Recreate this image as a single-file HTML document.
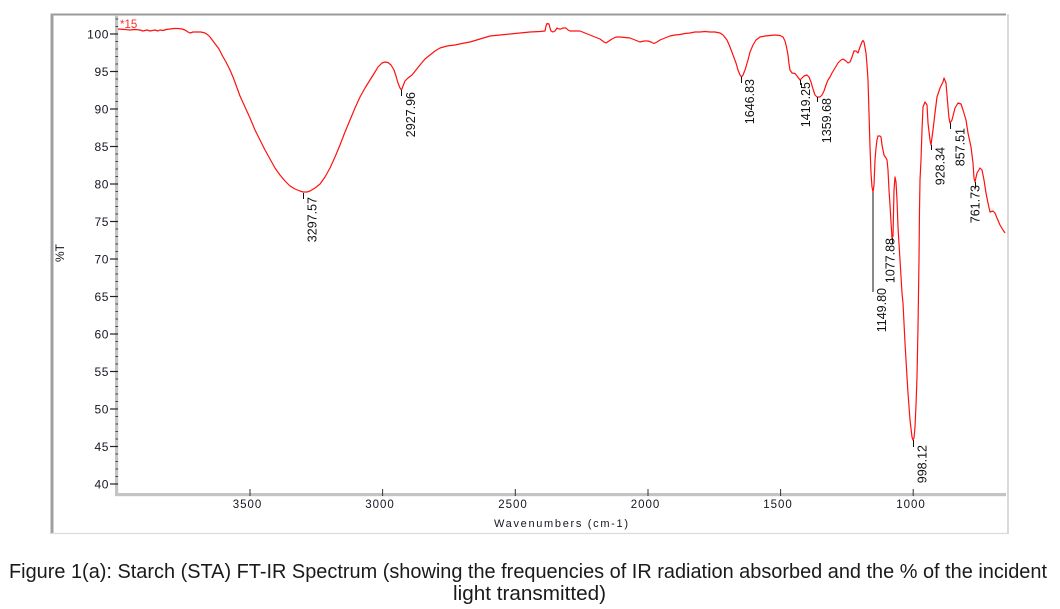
<!DOCTYPE html>
<html>
<head>
<meta charset="utf-8">
<style>
html,body{margin:0;padding:0;background:#fff;}
svg{display:block;}
text{font-family:"Liberation Sans",Arial,sans-serif;}
</style>
</head>
<body>
<svg width="1060" height="609" viewBox="0 0 1060 609" xmlns="http://www.w3.org/2000/svg">
  <rect x="0" y="0" width="1060" height="609" fill="#fff"/>
  <!-- outer frame -->
  <line x1="51" y1="14.5" x2="1006" y2="14.5" stroke="#9a9a9a" stroke-width="2"/>
  <line x1="52" y1="13.5" x2="52" y2="534" stroke="#a0a0a0" stroke-width="3"/>
  <line x1="1008" y1="14" x2="1008" y2="534" stroke="#ddd9d2" stroke-width="2"/>
  <line x1="51" y1="533.5" x2="1008" y2="533.5" stroke="#dcdcdc" stroke-width="1.2"/>

  <!-- axes bands -->
  <rect x="115" y="15" width="3.2" height="481" fill="#c4c4c4"/>
  <rect x="115" y="493" width="891" height="3.2" fill="#c4c4c4"/>

  <!-- y minor ticks -->
  <g stroke="#444" stroke-width="1">
    <line x1="115.5" y1="19" x2="118" y2="19"/>
    <line x1="115.5" y1="26.5" x2="118" y2="26.5"/>
    <line x1="115.5" y1="41.5" x2="118" y2="41.5"/><line x1="115.5" y1="49" x2="118" y2="49"/><line x1="115.5" y1="56.5" x2="118" y2="56.5"/><line x1="115.5" y1="64" x2="118" y2="64"/>
    <line x1="115.5" y1="79" x2="118" y2="79"/><line x1="115.5" y1="86.5" x2="118" y2="86.5"/><line x1="115.5" y1="94" x2="118" y2="94"/><line x1="115.5" y1="101.5" x2="118" y2="101.5"/>
    <line x1="115.5" y1="116.5" x2="118" y2="116.5"/><line x1="115.5" y1="124" x2="118" y2="124"/><line x1="115.5" y1="131.5" x2="118" y2="131.5"/><line x1="115.5" y1="139" x2="118" y2="139"/>
    <line x1="115.5" y1="154" x2="118" y2="154"/><line x1="115.5" y1="161.5" x2="118" y2="161.5"/><line x1="115.5" y1="169" x2="118" y2="169"/><line x1="115.5" y1="176.5" x2="118" y2="176.5"/>
    <line x1="115.5" y1="191.5" x2="118" y2="191.5"/><line x1="115.5" y1="199" x2="118" y2="199"/><line x1="115.5" y1="206.5" x2="118" y2="206.5"/><line x1="115.5" y1="214" x2="118" y2="214"/>
    <line x1="115.5" y1="229" x2="118" y2="229"/><line x1="115.5" y1="236.5" x2="118" y2="236.5"/><line x1="115.5" y1="244" x2="118" y2="244"/><line x1="115.5" y1="251.5" x2="118" y2="251.5"/>
    <line x1="115.5" y1="266.5" x2="118" y2="266.5"/><line x1="115.5" y1="274" x2="118" y2="274"/><line x1="115.5" y1="281.5" x2="118" y2="281.5"/><line x1="115.5" y1="289" x2="118" y2="289"/>
    <line x1="115.5" y1="304" x2="118" y2="304"/><line x1="115.5" y1="311.5" x2="118" y2="311.5"/><line x1="115.5" y1="319" x2="118" y2="319"/><line x1="115.5" y1="326.5" x2="118" y2="326.5"/>
    <line x1="115.5" y1="341.5" x2="118" y2="341.5"/><line x1="115.5" y1="349" x2="118" y2="349"/><line x1="115.5" y1="356.5" x2="118" y2="356.5"/><line x1="115.5" y1="364" x2="118" y2="364"/>
    <line x1="115.5" y1="379" x2="118" y2="379"/><line x1="115.5" y1="386.5" x2="118" y2="386.5"/><line x1="115.5" y1="394" x2="118" y2="394"/><line x1="115.5" y1="401.5" x2="118" y2="401.5"/>
    <line x1="115.5" y1="416.5" x2="118" y2="416.5"/><line x1="115.5" y1="424" x2="118" y2="424"/><line x1="115.5" y1="431.5" x2="118" y2="431.5"/><line x1="115.5" y1="439" x2="118" y2="439"/>
    <line x1="115.5" y1="454" x2="118" y2="454"/><line x1="115.5" y1="461.5" x2="118" y2="461.5"/><line x1="115.5" y1="469" x2="118" y2="469"/><line x1="115.5" y1="476.5" x2="118" y2="476.5"/>
  </g>
  <!-- y major ticks -->
  <g stroke="#222" stroke-width="1.2">
    <line x1="110" y1="34" x2="118" y2="34"/>
    <line x1="110" y1="71.5" x2="118" y2="71.5"/>
    <line x1="110" y1="109" x2="118" y2="109"/>
    <line x1="110" y1="146.5" x2="118" y2="146.5"/>
    <line x1="110" y1="184" x2="118" y2="184"/>
    <line x1="110" y1="221.5" x2="118" y2="221.5"/>
    <line x1="110" y1="259" x2="118" y2="259"/>
    <line x1="110" y1="296.5" x2="118" y2="296.5"/>
    <line x1="110" y1="334" x2="118" y2="334"/>
    <line x1="110" y1="371.5" x2="118" y2="371.5"/>
    <line x1="110" y1="409" x2="118" y2="409"/>
    <line x1="110" y1="446.5" x2="118" y2="446.5"/>
    <line x1="110" y1="484" x2="118" y2="484"/>
  </g>
  <g font-size="12" fill="#151520" text-anchor="end" letter-spacing="0.6">
    <text x="109" y="38.5">100</text>
    <text x="109" y="76">95</text>
    <text x="109" y="113.5">90</text>
    <text x="109" y="151">85</text>
    <text x="109" y="188.5">80</text>
    <text x="109" y="226">75</text>
    <text x="109" y="263.5">70</text>
    <text x="109" y="301">65</text>
    <text x="109" y="338.5">60</text>
    <text x="109" y="376">55</text>
    <text x="109" y="413.5">50</text>
    <text x="109" y="451">45</text>
    <text x="109" y="488.5">40</text>
  </g>

  <!-- x ticks -->
  <g stroke="#333" stroke-width="1">
    <line x1="250" y1="489" x2="250" y2="496"/>
    <line x1="382.6" y1="489" x2="382.6" y2="496"/>
    <line x1="515.3" y1="489" x2="515.3" y2="496"/>
    <line x1="648" y1="489" x2="648" y2="496"/>
    <line x1="780.6" y1="489" x2="780.6" y2="496"/>
    <line x1="913.2" y1="489" x2="913.2" y2="496"/>
  </g>
  <g font-size="11.5" fill="#151520" text-anchor="middle" letter-spacing="1">
    <text x="247.5" y="508">3500</text>
    <text x="380" y="508">3000</text>
    <text x="513" y="508">2500</text>
    <text x="645.5" y="508">2000</text>
    <text x="778" y="508">1500</text>
    <text x="911" y="508">1000</text>
  </g>
  <text x="494" y="527" font-size="11" fill="#151520" textLength="134" lengthAdjust="spacing">Wavenumbers (cm-1)</text>
  <text transform="translate(64,253) rotate(-90)" font-size="12" fill="#151520" text-anchor="middle">%T</text>

  <!-- series label -->
  <text x="120" y="28" font-size="11.5" fill="#ff2b2b">*15</text>

  <!-- spectrum -->
  <path fill="none" stroke="#ff1010" stroke-width="1.2" stroke-linejoin="round" d="M118,29 L125,29.5 L130,30 L135,29.5 L140,30 L143,31 L147,30 L150,31 L155,30 L158,31 L160,30 L163,30.5 L166,29.5 L170,29 L174,28.5 L178,28.5 L182,29 L185,30 L188,32 L190,33 L193,32 L197,32 L201,32 L205,33 L208,35 L210,37 L213,41 L216,45 L219,49 L222,55 L226,62 L230,70 L233,77 L236,85 L240,96 L245,107 L250,118 L255,130 L260,140 L265,150 L270,159 L275,168 L280,175 L285,181 L290,186 L295,189 L300,191 L303,192 L307,192 L310,191 L315,188 L320,184 L325,177 L330,168 L335,157 L340,145 L345,132 L350,120 L355,108 L360,97 L365,88 L370,80 L375,72 L378,67 L382,63 L385,62 L388,62.5 L391,65 L394,70 L396,76 L398,83 L400,88 L401.5,90 L403,86 L405,81 L408,78 L412,75 L416,70 L420,65 L425,59 L430,55 L435,51 L440,48 L447,46 L455,45 L462,43.5 L470,42 L480,39 L490,36 L500,35 L510,34 L520,33 L530,32 L540,31.5 L545,31 L546,26 L547,23.5 L549,24 L550,28 L551,31 L553,32 L555,31 L557,28 L559,29 L561,29 L563,28 L566,28 L568,30 L570,31 L575,31 L580,31 L585,33 L590,35 L595,37 L600,39 L604,42 L606,43 L609,41 L612,39 L616,37 L620,37 L625,37.5 L630,38 L635,40 L640,42 L644,41 L648,41 L651,42 L654,43.5 L657,42 L660,40 L665,38 L670,36 L675,35 L680,34.5 L685,33.5 L690,33 L695,32 L700,32 L705,31.5 L710,32 L715,32 L720,33 L723,35 L727,40 L730,47 L733,55 L736,63 L738,70 L740,75 L741.5,77 L743,75 L745,70 L748,60 L750,52 L753,45 L756,40 L760,37 L765,36 L770,35.5 L775,35 L780,35.5 L783,37 L785,41 L786.5,47 L788,55 L789,64 L790,70 L792,73 L795,73.5 L797,76 L800,80 L802,78 L804,76 L807,75 L809,77 L811,82 L813,89 L815,95 L817,97 L820,97 L822,95 L824,91 L826,85 L828,80 L830,77 L832,73 L835,68 L838,63 L841,60 L843,59 L846,61 L848,63 L850,62 L852,57 L854,51 L856,51 L858,53 L860,47 L862,42 L863,40.5 L864,42 L866,53 L867,65 L868,80 L869,113 L870,147 L871,173 L872,187 L873,192 L874,185 L875,160 L876,148 L877,140 L878,136 L880,136 L881,137 L882,145 L884,155 L886,158 L887,160 L888,170 L889,190 L890,205 L891,222 L892,238 L893,236 L894,190 L895,177 L896,182 L897,200 L898,227 L900,260 L902,293 L903,303 L905,343 L907,377 L908,393 L910,420 L912,437 L913,440 L914,438 L915,427 L916,405 L917,377 L918,327 L919,260 L919.5,210 L920,180 L921,160 L922,130 L923,107 L925,102 L927,105 L928,123 L930,140 L931,145 L933,130 L935,113 L937,97 L940,88 L943,82 L944,78 L946,83 L948,107 L949,118 L950,123 L952,120 L955,108 L958,103 L961,104 L963,110 L966,120 L968,133 L971,147 L973,163 L974,178 L975,182 L977,173 L980,168 L982,170 L984,180 L986,193 L988,203 L990,212 L993,211 L995,213 L997,218 L1000,225 L1003,230 L1005,233"/>

  <!-- peak markers -->
  <g stroke="#111" stroke-width="1">
    <line x1="303.5" y1="193" x2="303.5" y2="199"/>
    <line x1="401.5" y1="90" x2="401.5" y2="96"/>
    <line x1="741.5" y1="77" x2="741.5" y2="83"/>
    <line x1="800.5" y1="80" x2="800.5" y2="85"/>
    <line x1="817.5" y1="97" x2="817.5" y2="102"/>
    <line x1="873" y1="192" x2="873" y2="292"/>
    <line x1="892.5" y1="238" x2="892.5" y2="244"/>
    <line x1="913.5" y1="440" x2="913.5" y2="447"/>
    <line x1="931.5" y1="145" x2="931.5" y2="150"/>
    <line x1="950.5" y1="123" x2="950.5" y2="129"/>
    <line x1="975.5" y1="182" x2="975.5" y2="188"/>
  </g>
  <g font-size="12.5" fill="#111" text-anchor="end">
    <text transform="translate(316.5,197) rotate(-90)">3297.57</text>
    <text transform="translate(415,92) rotate(-90)">2927.96</text>
    <text transform="translate(754,79) rotate(-90)">1646.83</text>
    <text transform="translate(810,82) rotate(-90)">1419.25</text>
    <text transform="translate(831,98) rotate(-90)">1359.68</text>
    <text transform="translate(886,288) rotate(-90)">1149.80</text>
    <text transform="translate(894.5,238) rotate(-90)">1077.88</text>
    <text transform="translate(926.5,445) rotate(-90)">998.12</text>
    <text transform="translate(944.5,147) rotate(-90)">928.34</text>
    <text transform="translate(964.5,128) rotate(-90)">857.51</text>
    <text transform="translate(979.5,185) rotate(-90)">761.73</text>
  </g>

  <!-- caption -->
  <text x="9" y="578" font-size="20" fill="#1a1a1a" textLength="1038" lengthAdjust="spacingAndGlyphs">Figure 1(a): Starch (STA) FT-IR Spectrum (showing the frequencies of IR radiation absorbed and the % of the incident</text>
  <text x="453" y="600" font-size="20" fill="#1a1a1a" textLength="153" lengthAdjust="spacingAndGlyphs">light transmitted)</text>
</svg>
</body>
</html>
